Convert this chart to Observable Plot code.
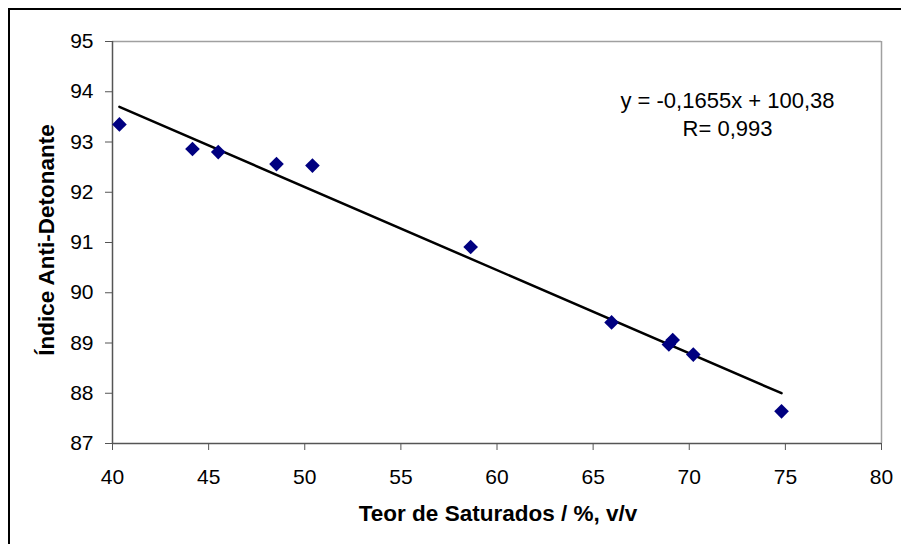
<!DOCTYPE html>
<html>
<head>
<meta charset="utf-8">
<script src="https://cdn.jsdelivr.net/npm/d3@7"></script>
<script src="https://cdn.jsdelivr.net/npm/@observablehq/plot@0.6"></script>
<style>
  html, body { margin: 0; padding: 0; background: #fff; }
  #wrap { position: relative; width: 901px; height: 544px; overflow: hidden; }
  #border { position: absolute; left: 8px; top: 8px; width: 1000px; height: 1000px; border-left: 2px solid #000; border-top: 2px solid #000; pointer-events: none; }
</style>
</head>
<body>
<div id="wrap"><div id="border"></div></div>
<script>
const saturados = [40.36, 44.16, 45.5, 48.53, 50.4, 58.63, 65.96, 68.94, 69.14, 70.21, 74.8];
const indice   = [93.35, 92.86, 92.8, 92.56, 92.53, 90.91, 89.41, 88.97, 89.06, 88.77, 87.64];
const xTicks = [40, 45, 50, 55, 60, 65, 70, 75, 80];
const yTicks = [87, 88, 89, 90, 91, 92, 93, 94, 95];
const slope = [-0.1655];
const intercept = [100.38];
const equationLines = ["y = -0,1655x + 100,38", "R= 0,993"];

const points = saturados.map((x, i) => ({x, y: indice[i]}));
const xMin = d3.min(saturados), xMax = d3.max(saturados);
const trend = [xMin, xMax].map(x => ({x, y: slope[0] * x + intercept[0]}));

const chart = Plot.plot({
  width: 901,
  height: 544,
  marginLeft: 112,
  marginRight: 20,
  marginTop: 41,
  marginBottom: 101,
  style: {fontFamily: "'Liberation Sans', Arial, sans-serif", fontSize: "21px", background: "transparent", overflow: "visible"},
  x: {domain: [40, 80]},
  y: {domain: [87, 95]},
  marks: [
    Plot.ruleY([95], {stroke: "#a0a0a0", strokeWidth: 1.5}),
    Plot.ruleX([80], {stroke: "#a0a0a0", strokeWidth: 1.5}),
    Plot.ruleY([87], {stroke: "#555", strokeWidth: 1.5}),
    Plot.ruleX([40], {stroke: "#555", strokeWidth: 1.5}),
    Plot.axisX(xTicks, {tickSize: 7, tickPadding: 19, stroke: "#555", fill: "#000", tickFormat: d => String(d), label: null}),
    Plot.axisY(yTicks, {tickSize: 7, tickPadding: 12, stroke: "#555", fill: "#000", tickFormat: d => String(d), label: null}),
    Plot.line(trend, {x: "x", y: "y", stroke: "#000", strokeWidth: 2.5}),
    Plot.dot(points, {x: "x", y: "y", symbol: "diamond2", r: 6.6, fill: "#000080", stroke: "none"}),
    Plot.text([equationLines.join("\n")], {frameAnchor: "top-right", dx: -154, dy: 47, text: d => d, fontSize: 22, fill: "#000", textAnchor: "middle", lineHeight: 1.25})
  ]
});

const svg = d3.select(chart);
svg.append("text")
  .attr("x", 498).attr("y", 521)
  .attr("text-anchor", "middle")
  .attr("font-weight", "bold").attr("font-size", 22.5)
  .attr("font-family", "'Liberation Sans', Arial, sans-serif")
  .text("Teor de Saturados / %, v/v");
svg.append("text")
  .attr("transform", "translate(54,240) rotate(-90)")
  .attr("text-anchor", "middle")
  .attr("font-weight", "bold").attr("font-size", 22.5)
  .attr("font-family", "'Liberation Sans', Arial, sans-serif")
  .text("Índice Anti-Detonante");

chart.style.position = "absolute";
chart.style.left = "0";
chart.style.top = "0";
document.getElementById("wrap").prepend(chart);
</script>
</body>
</html>
